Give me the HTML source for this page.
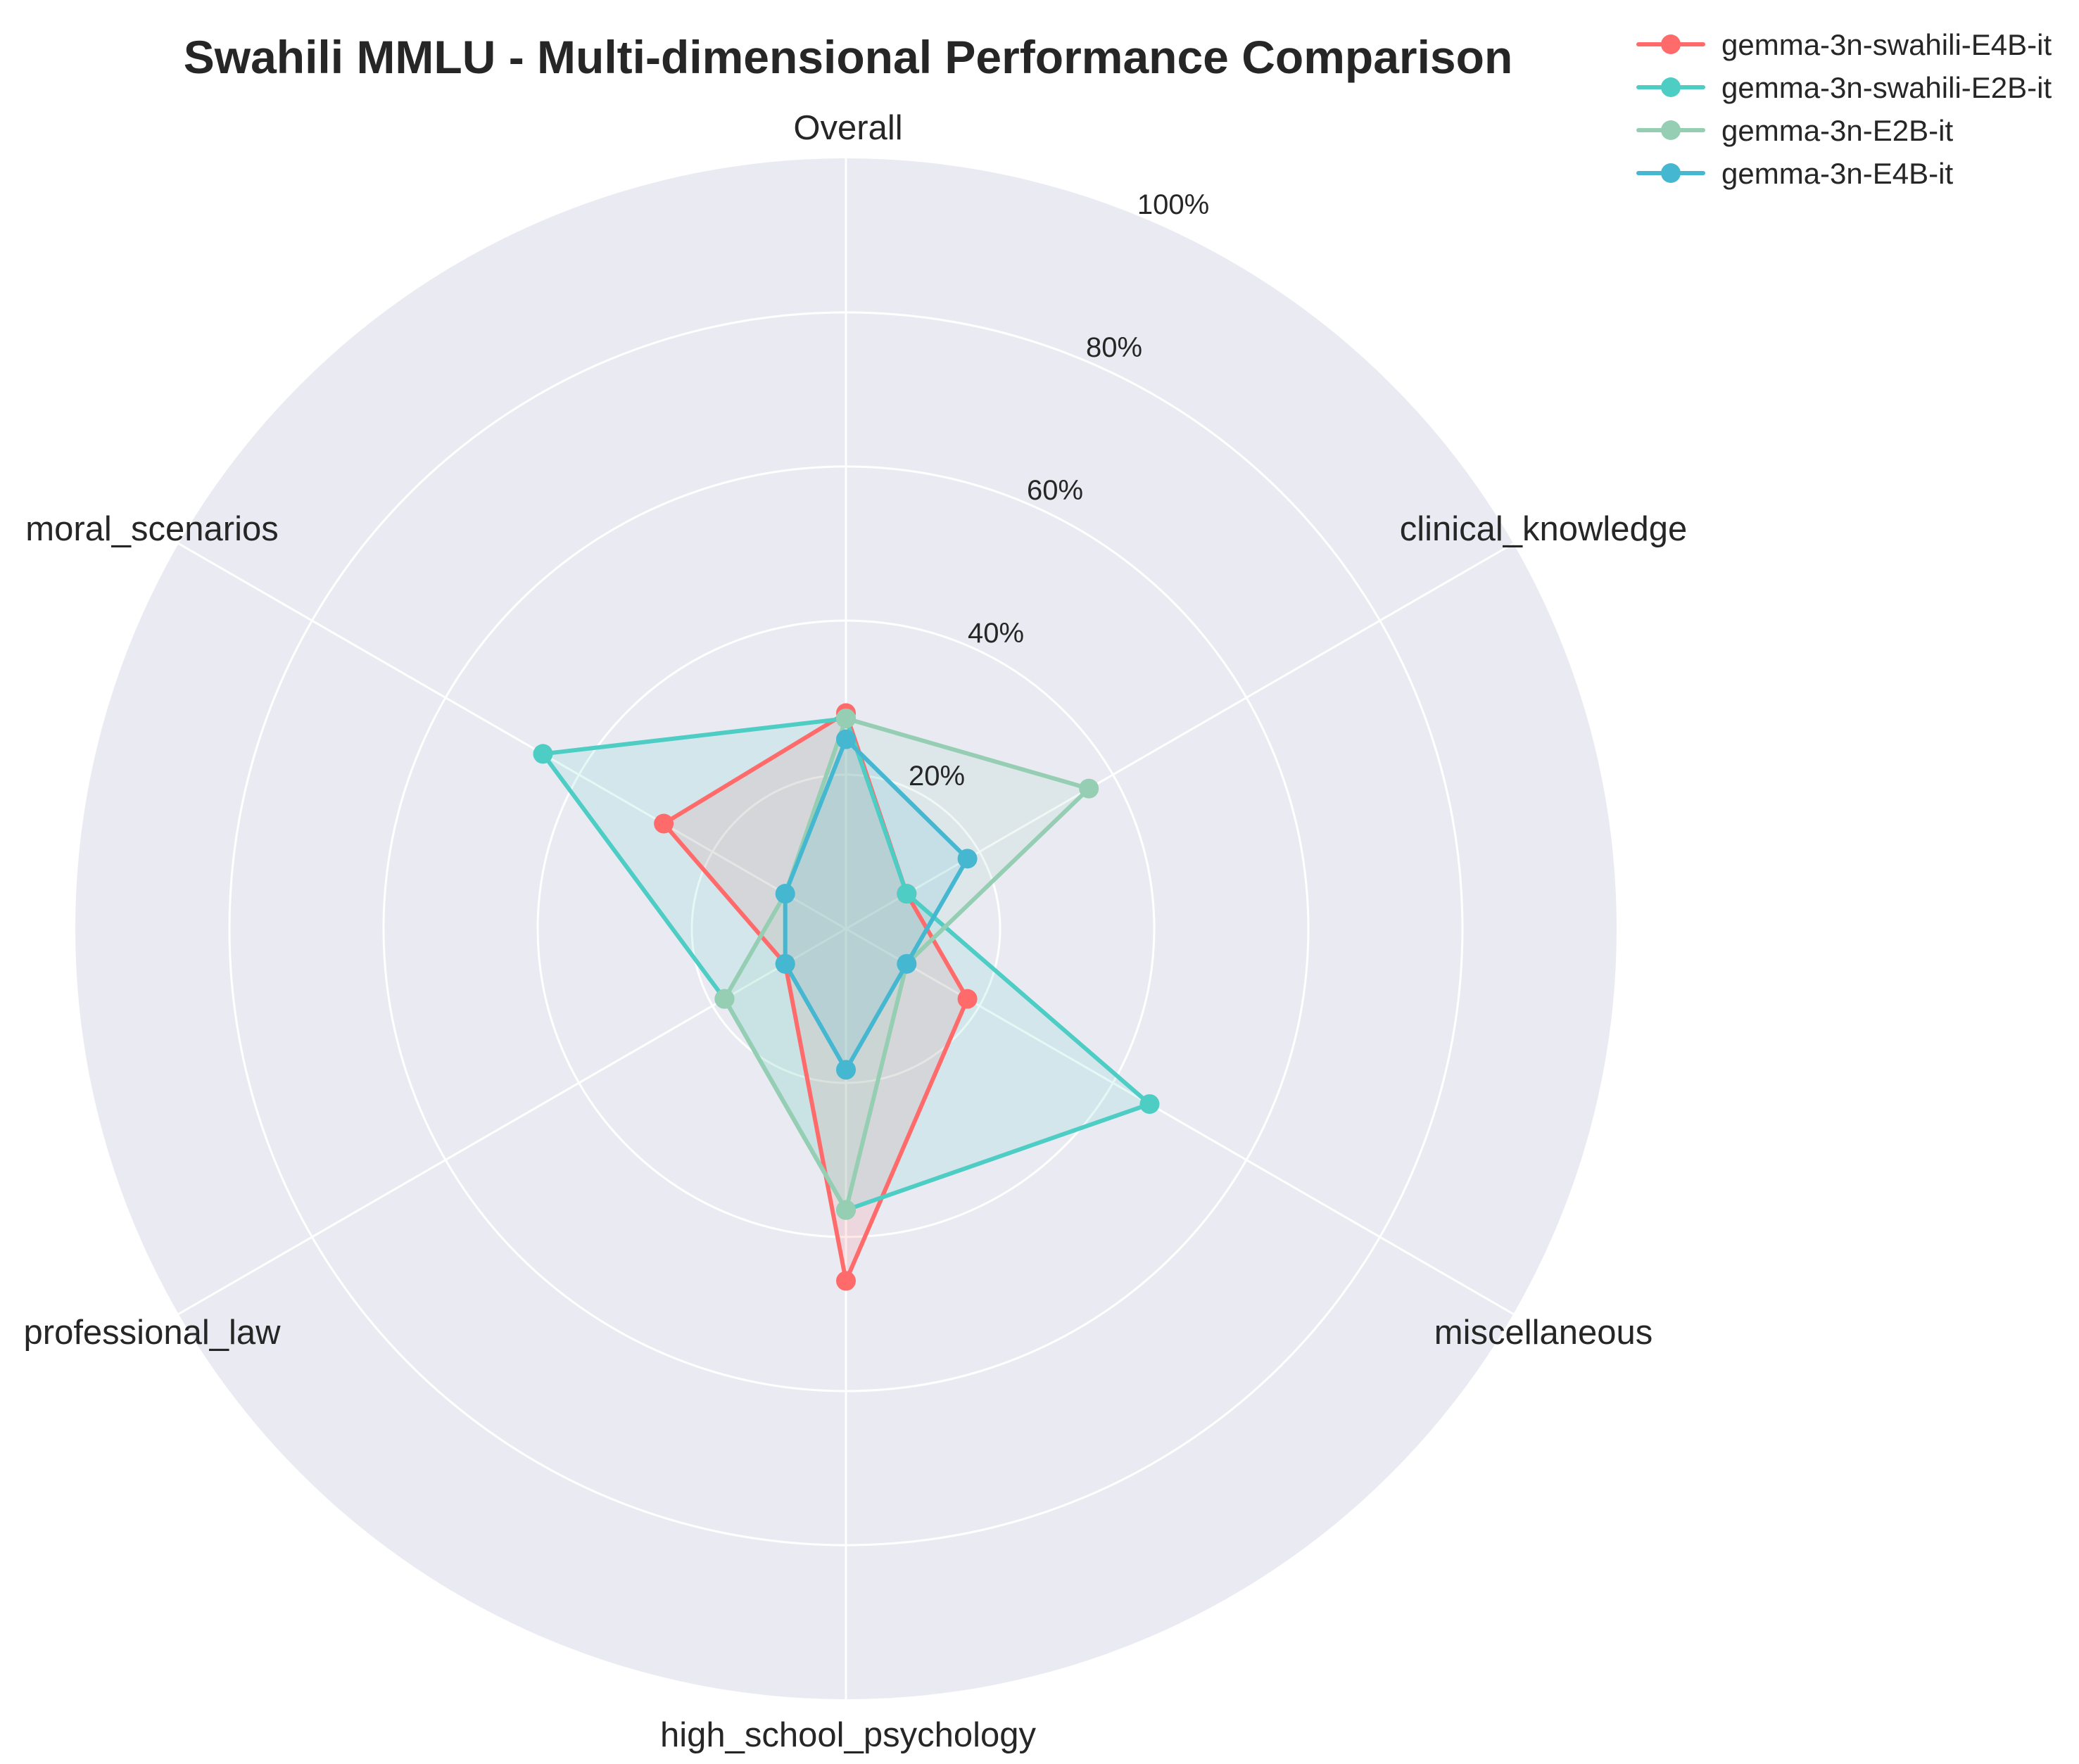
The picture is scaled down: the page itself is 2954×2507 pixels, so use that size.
<!DOCTYPE html>
<html><head><meta charset="utf-8"><style>
html,body{margin:0;padding:0;background:#fff;}
svg{display:block;font-family:"Liberation Sans",sans-serif;}
</style></head><body>
<svg id="chart" width="2954" height="2507" viewBox="0 0 2954 2507" xmlns="http://www.w3.org/2000/svg">
<text x="1205" y="104" text-anchor="middle" font-size="66" font-weight="bold" fill="#262626">Swahili MMLU - Multi-dimensional Performance Comparison</text>
<g id="plot"></g>
<g id="legend"></g>
</svg>
<script>
const categories = ["Overall","clinical_knowledge","miscellaneous","high_school_psychology","professional_law","moral_scenarios"];
const seriesNames = ["gemma-3n-swahili-E4B-it","gemma-3n-swahili-E2B-it","gemma-3n-E2B-it","gemma-3n-E4B-it"];
const seriesE4BSw = [28.0, 9.1, 18.2, 45.7, 9.1, 27.3];
const seriesE2BSw = [27.3, 9.1, 45.5, 36.5, 18.2, 45.4];
const seriesE2B = [27.3, 36.4, 9.1, 36.5, 18.2, 9.1];
const seriesE4B = [24.6, 18.2, 9.1, 18.3, 9.1, 9.1];
const tickValues = [20,40,60,80,100];
const tickLabels = ["20%","40%","60%","80%","100%"];

const colors = ["#FF6B6B","#4ECDC4","#96CEB4","#45B7D1"];
const allSeries = [seriesE4BSw, seriesE2BSw, seriesE2B, seriesE4B];
const NS = "http://www.w3.org/2000/svg";
const cx = 1202, cy = 1320, R = 1095;
const plot = document.getElementById('plot');
function rScale(v){ return v/100*R; }
function ang(i){ return Math.PI/2 - i*2*Math.PI/categories.length; }
function pt(i,v){ const a=ang(i), r=rScale(v); return [cx + r*Math.cos(a), cy - r*Math.sin(a)]; }
function mk(tag, attrs){ const e=document.createElementNS(NS,tag); for(const k in attrs) e.setAttribute(k,attrs[k]); return e; }

const bg = mk('circle',{cx:cx,cy:cy,r:R,fill:'#EAEAF2'});


plot.appendChild(bg);
tickValues.slice(0,-1).forEach(v=>{
  const c = mk('circle',{cx:cx,cy:cy,r:rScale(v),fill:'none',stroke:'#fff','stroke-width':3});
  
  
  plot.appendChild(c);
});
categories.forEach((c,i)=>{
  const [x,y]=pt(i,100);
  const l = mk('line',{x1:cx,y1:cy,x2:x,y2:y,stroke:'#fff','stroke-width':3});
  
  
  plot.appendChild(l);
});
const labelPos = [[1205,198],[2193,768],[2193,1910],[1205,2482],[216,1910],[216,768]];
categories.forEach((c,i)=>{
  const [x,y]=labelPos[i];
  const t = mk('text',{x:x,y:y,'text-anchor':'middle','font-size':49,fill:'#262626'});
  t.textContent=c;
  
  
  plot.appendChild(t);
});
allSeries.forEach((s,k)=>{
  const pts = s.map((v,i)=>pt(i,v).join(',')).join(' ');
  const p = mk('polygon',{points:pts,fill:colors[k],'fill-opacity':0.15,stroke:'none'});
  
  
  plot.appendChild(p);
});
allSeries.forEach((s,k)=>{
  const pts = s.map((v,i)=>pt(i,v).join(',')).join(' ');
  const p = mk('polygon',{points:pts,fill:'none',stroke:colors[k],'stroke-width':6,'stroke-linejoin':'round'});
  
  
  plot.appendChild(p);
  s.forEach((v,i)=>{
    const [x,y]=pt(i,v);
    const c = mk('circle',{cx:x,cy:y,r:14,fill:colors[k]});
    
    
    plot.appendChild(c);
  });
});
tickValues.forEach((v,i)=>{
  const x = 1331 + (v-20)/20*84, y = 1116 - (v-20)/20*203;
  const t = mk('text',{x:x,y:y,'text-anchor':'middle','font-size':40,fill:'#262626'});
  t.textContent = tickLabels[i];
  
  
  plot.appendChild(t);
});
const lg = document.getElementById('legend');
seriesNames.forEach((n,k)=>{
  const y = 63 + k*61;
  const l = mk('line',{x1:2328,y1:y,x2:2420,y2:y,stroke:colors[k],'stroke-width':6,'stroke-linecap':'round'});
  
  
  lg.appendChild(l);
  const c = mk('circle',{cx:2374,cy:y,r:14,fill:colors[k]});
  
  
  lg.appendChild(c);
  const t = mk('text',{x:2446,y:y+15,'font-size':42,fill:'#262626'});
  t.textContent=n;
  
  
  lg.appendChild(t);
});
</script>
</body></html>
